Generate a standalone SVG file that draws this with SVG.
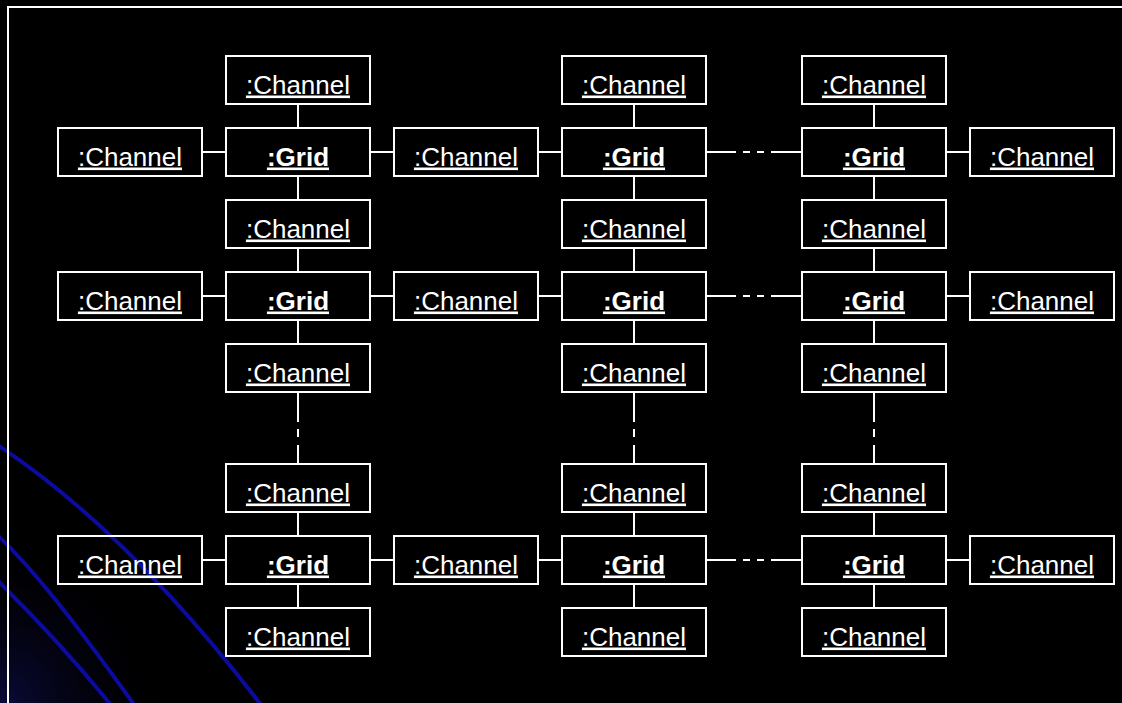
<svg xmlns="http://www.w3.org/2000/svg" width="1122" height="703" viewBox="0 0 1122 703">
<defs>
<radialGradient id="glow" cx="0" cy="703" r="170" gradientUnits="userSpaceOnUse">
<stop offset="0" stop-color="#0a0a3a"/>
<stop offset="1" stop-color="#000000" stop-opacity="0"/>
</radialGradient>
<style>
.box{fill:none;stroke:#ffffff;stroke-width:2}
.t{fill:#ffffff;font-family:"Liberation Sans",Arial,sans-serif;font-size:26px;text-anchor:middle;text-decoration:underline}
.b{font-weight:bold}
.c{stroke:#ffffff;stroke-width:2;fill:none}
.arc{fill:none;stroke:#0b0b9e;stroke-width:4}
</style>
</defs>
<rect x="0" y="0" width="1122" height="703" fill="#000000"/>
<rect x="0" y="500" width="250" height="203" fill="url(#glow)"/>
<g id="decor">
<path class="arc" d="M-10,440 C60,485 150,560 262,706"/>
<path class="arc" d="M-10,528 C30,565 70,615 138,710"/>
<path class="arc" d="M-10,573 C30,612 75,660 115,710"/>
<path d="M8,703 V7 H1122" fill="none" stroke="#ffffff" stroke-width="2"/>
</g>
<g id="connectors">
<path class="c" d="M298,104V128 M298,176V200 M298,248V272 M298,320V344 M298,512V536 M298,584V608"/>
<path class="c" d="M634,104V128 M634,176V200 M634,248V272 M634,320V344 M634,512V536 M634,584V608"/>
<path class="c" d="M874,104V128 M874,176V200 M874,248V272 M874,320V344 M874,512V536 M874,584V608"/>
<path class="c" d="M298,392V422 M298,429V437 M298,445V464 M634,392V422 M634,429V437 M634,445V464 M874,392V422 M874,429V437 M874,445V464"/>
<path class="c" d="M202,152H226 M370,152H394 M538,152H562 M946,152H970 M202,296H226 M370,296H394 M538,296H562 M946,296H970 M202,560H226 M370,560H394 M538,560H562 M946,560H970"/>
<path class="c" d="M706,152H736 M743,152H750 M757,152H764 M771,152H802 M706,296H736 M743,296H750 M757,296H764 M771,296H802 M706,560H736 M743,560H750 M757,560H764 M771,560H802"/>
</g>
<g id="ch-r1-top-1"><rect class="box" x="226" y="56" width="144" height="48"/><text class="t" x="298" y="93.5">:Channel</text></g>
<g id="ch-r1-top-2"><rect class="box" x="562" y="56" width="144" height="48"/><text class="t" x="634" y="93.5">:Channel</text></g>
<g id="ch-r1-top-3"><rect class="box" x="802" y="56" width="144" height="48"/><text class="t" x="874" y="93.5">:Channel</text></g>
<g id="ch-r1-left"><rect class="box" x="58" y="128" width="144" height="48"/><text class="t" x="130" y="165.5">:Channel</text></g>
<g id="grid-r1-1"><rect class="box" x="226" y="128" width="144" height="48"/><text class="t b" x="298" y="165.5">:Grid</text></g>
<g id="ch-r1-mid"><rect class="box" x="394" y="128" width="144" height="48"/><text class="t" x="466" y="165.5">:Channel</text></g>
<g id="grid-r1-2"><rect class="box" x="562" y="128" width="144" height="48"/><text class="t b" x="634" y="165.5">:Grid</text></g>
<g id="grid-r1-3"><rect class="box" x="802" y="128" width="144" height="48"/><text class="t b" x="874" y="165.5">:Grid</text></g>
<g id="ch-r1-right"><rect class="box" x="970" y="128" width="144" height="48"/><text class="t" x="1042" y="165.5">:Channel</text></g>
<g id="ch-r1-bot-1"><rect class="box" x="226" y="200" width="144" height="48"/><text class="t" x="298" y="237.5">:Channel</text></g>
<g id="ch-r1-bot-2"><rect class="box" x="562" y="200" width="144" height="48"/><text class="t" x="634" y="237.5">:Channel</text></g>
<g id="ch-r1-bot-3"><rect class="box" x="802" y="200" width="144" height="48"/><text class="t" x="874" y="237.5">:Channel</text></g>
<g id="ch-r2-left"><rect class="box" x="58" y="272" width="144" height="48"/><text class="t" x="130" y="309.5">:Channel</text></g>
<g id="grid-r2-1"><rect class="box" x="226" y="272" width="144" height="48"/><text class="t b" x="298" y="309.5">:Grid</text></g>
<g id="ch-r2-mid"><rect class="box" x="394" y="272" width="144" height="48"/><text class="t" x="466" y="309.5">:Channel</text></g>
<g id="grid-r2-2"><rect class="box" x="562" y="272" width="144" height="48"/><text class="t b" x="634" y="309.5">:Grid</text></g>
<g id="grid-r2-3"><rect class="box" x="802" y="272" width="144" height="48"/><text class="t b" x="874" y="309.5">:Grid</text></g>
<g id="ch-r2-right"><rect class="box" x="970" y="272" width="144" height="48"/><text class="t" x="1042" y="309.5">:Channel</text></g>
<g id="ch-r2-bot-1"><rect class="box" x="226" y="344" width="144" height="48"/><text class="t" x="298" y="381.5">:Channel</text></g>
<g id="ch-r2-bot-2"><rect class="box" x="562" y="344" width="144" height="48"/><text class="t" x="634" y="381.5">:Channel</text></g>
<g id="ch-r2-bot-3"><rect class="box" x="802" y="344" width="144" height="48"/><text class="t" x="874" y="381.5">:Channel</text></g>
<g id="ch-r3-top-1"><rect class="box" x="226" y="464" width="144" height="48"/><text class="t" x="298" y="501.5">:Channel</text></g>
<g id="ch-r3-top-2"><rect class="box" x="562" y="464" width="144" height="48"/><text class="t" x="634" y="501.5">:Channel</text></g>
<g id="ch-r3-top-3"><rect class="box" x="802" y="464" width="144" height="48"/><text class="t" x="874" y="501.5">:Channel</text></g>
<g id="ch-r3-left"><rect class="box" x="58" y="536" width="144" height="48"/><text class="t" x="130" y="573.5">:Channel</text></g>
<g id="grid-r3-1"><rect class="box" x="226" y="536" width="144" height="48"/><text class="t b" x="298" y="573.5">:Grid</text></g>
<g id="ch-r3-mid"><rect class="box" x="394" y="536" width="144" height="48"/><text class="t" x="466" y="573.5">:Channel</text></g>
<g id="grid-r3-2"><rect class="box" x="562" y="536" width="144" height="48"/><text class="t b" x="634" y="573.5">:Grid</text></g>
<g id="grid-r3-3"><rect class="box" x="802" y="536" width="144" height="48"/><text class="t b" x="874" y="573.5">:Grid</text></g>
<g id="ch-r3-right"><rect class="box" x="970" y="536" width="144" height="48"/><text class="t" x="1042" y="573.5">:Channel</text></g>
<g id="ch-r3-bot-1"><rect class="box" x="226" y="608" width="144" height="48"/><text class="t" x="298" y="645.5">:Channel</text></g>
<g id="ch-r3-bot-2"><rect class="box" x="562" y="608" width="144" height="48"/><text class="t" x="634" y="645.5">:Channel</text></g>
<g id="ch-r3-bot-3"><rect class="box" x="802" y="608" width="144" height="48"/><text class="t" x="874" y="645.5">:Channel</text></g>
</svg>
